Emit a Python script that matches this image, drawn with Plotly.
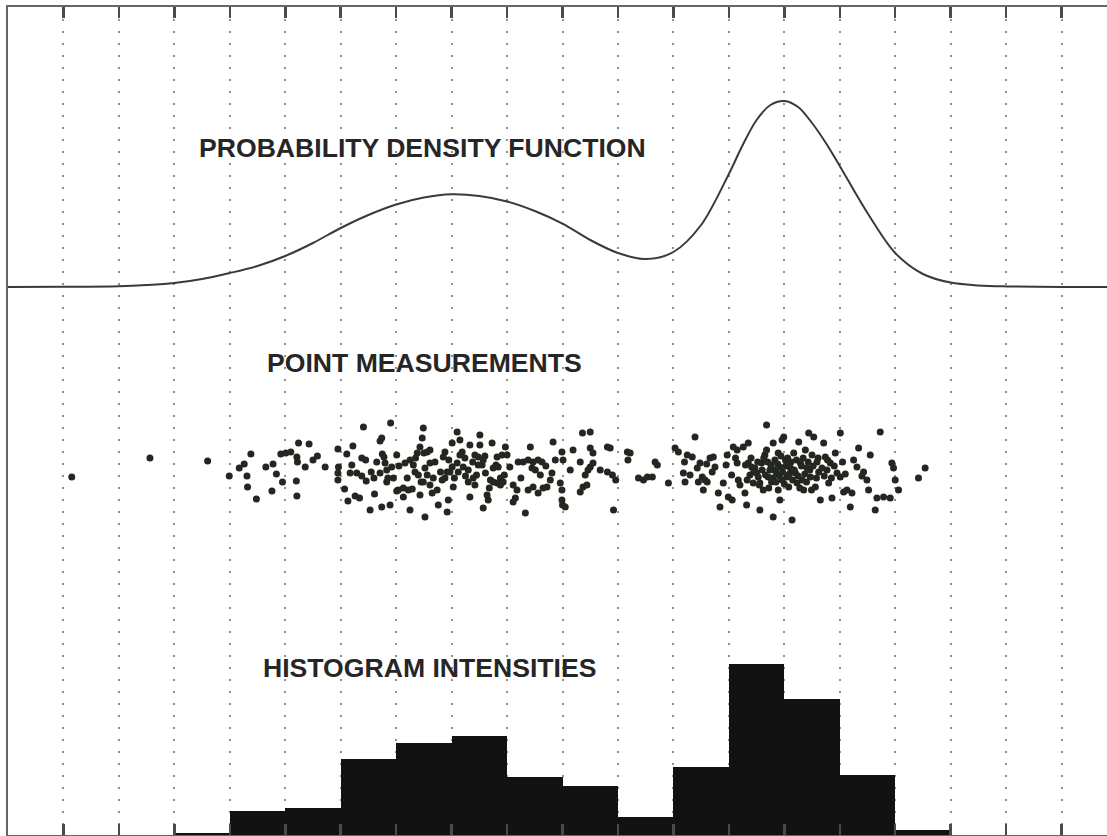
import plotly.graph_objects as go

# ---------------- data ----------------
# probability density function (arbitrary density units)
pdf_x = [0, 1, 2, 2.5, 3, 3.5, 4, 4.5, 5, 5.5, 6, 6.5, 7, 7.5, 8, 8.5, 9, 9.5, 10,
         10.5, 11, 11.5, 12, 12.5, 13, 13.25, 13.5, 13.75, 14, 14.25, 14.5, 14.75,
         15, 15.5, 16, 16.5, 17, 17.5, 18, 19, 20]
pdf_values = [0, 0.2, 0.8, 2, 4, 8, 14, 21, 31, 44, 59, 72, 82.5, 89.5, 92.7, 91,
              85.5, 76, 63.4, 47, 34, 28, 35, 62, 113, 142, 167, 182, 186, 180,
              164, 144, 121, 74, 34, 13, 4.4, 1.6, 0.6, 0, 0]

# point measurements: (measured value, vertical jitter)
point_measurements = [
    (1.15, -7), (2.56, 12), (3.60, 9), (3.99, -6), (4.17, 2), (4.26, 6), (4.38, 16),
    (4.31, -6), (4.32, -17), (4.48, -29), (4.65, 3), (4.78, 6), (4.76, -21), (4.84, -4),
    (4.92, 16), (5.01, 17), (5.10, 18), (4.95, -12), (5.21, 13), (5.22, 8), (5.24, 27),
    (5.43, 26), (5.20, -11), (5.21, -26), (5.36, 3), (5.50, 10), (5.58, 14), (5.72, 3),
    (5.95, 21), (5.96, 3), (5.95, -3), (5.95, -10), (6.07, -19), (6.13, -31), (6.11, 16),
    (6.22, 24), (6.17, -3), (6.26, -26), (6.34, -28), (6.29, -3), (6.38, 12), (6.41, 43),
    (6.38, -6), (6.46, -11), (6.53, -40), (6.55, -2), (6.61, -24), (6.65, 8), (6.71, 29),
    (6.74, 32), (6.75, 16), (6.71, -3), (6.74, -37), (6.80, 7), (6.83, 0), (6.83, -12),
    (6.89, -35), (6.90, 47), (6.92, 3), (7.01, -21), (6.78, 13), (6.85, -8),
    (7.01, 15), (7.04, -20), (7.13, -18), (7.22, -20), (7.29, -19), (7.13, -27), (7.16, 7),
    (7.25, 10), (7.31, 5), (7.25, -40), (7.34, -2), (7.40, -5), (7.43, 23), (7.47, 32),
    (7.49, 42), (7.38, 17), (7.50, 17), (7.56, 18), (7.61, 20), (7.43, -25), (7.49, -12),
    (7.52, 2), (7.56, -5), (7.61, 7), (7.65, -23), (7.61, -15), (7.67, -8), (7.52, -47),
    (7.74, -20), (7.76, -35), (7.83, -10), (7.88, -8), (7.92, -2), (7.85, 13), (7.88, 18),
    (7.92, -42), (7.94, -30), (8.01, 27), (8.10, 38), (8.15, 30), (8.01, 3), (8.10, 7),
    (8.15, 15), (8.19, 18), (8.03, -17), (7.97, -2), (8.21, 3), (8.24, 12), (8.30, 0),
    (8.33, 25), (8.30, -12), (8.39, -8), (8.42, -15), (8.33, -27), (8.42, 15), (8.48, 13),
    (8.51, 35), (8.51, 25), (8.48, 5), (8.55, 5), (8.57, 10), (8.61, -3), (8.57, -38),
    (8.64, -25), (8.66, -30), (8.70, -10), (8.75, -12), (8.82, -13), (8.88, -8), (8.73, 27),
    (8.82, 13), (8.91, 15), (8.97, 23), (9.00, 15), (8.88, -15), (8.93, -12), (8.75, 2),
    (8.84, 3), (9.11, -15), (9.18, -20), (9.15, -28), (9.11, -32), (9.20, 8), (9.29, 8),
    (9.38, 10), (9.47, 8), (9.56, 10), (9.63, 8), (9.42, 23), (9.38, -20), (9.47, -17),
    (9.45, 2), (9.51, 0), (9.33, -43), (9.56, -23), (9.65, -18), (9.72, -17), (9.78, -10),
    (9.81, -3), (9.87, 10), (9.83, 28), (9.99, 18), (10.01, 10), (9.96, -13), (9.99, -20),
    (9.99, -30), (10.00, -35), (10.05, -37), (10.14, 0), (10.19, 20), (10.32, 8),
    (10.36, 37), (10.50, 38), (10.32, -22), (10.37, -17), (10.44, -15), (10.41, -5),
    (10.46, 0), (10.50, 3), (10.55, 7), (10.50, 22), (10.55, 17), (10.68, 0), (10.81, 23),
    (10.86, 22), (10.81, -2), (10.90, -5), (10.96, -10), (10.92, -40), (11.17, 18),
    (11.22, 17), (11.18, 10), (11.37, -8), (11.46, -10), (11.53, -7), (11.62, -7),
    (11.67, 8), (11.71, 5), (11.91, -13), (12.03, 22), (12.09, 18), (12.18, -3),
    (12.21, -12), (12.25, 15), (12.34, 13), (12.39, 33), (12.43, 2), (12.48, 7),
    (12.52, -7), (12.57, -10), (12.54, -20), (12.61, -12), (12.66, 12), (12.72, 13),
    (12.75, 3), (12.81, -23), (12.84, -37), (12.90, -13), (12.97, 15), (12.99, -27),
    (13.06, -30), (13.08, 23), (13.15, 20), (13.15, 7), (13.17, -10),
    (13.26, 23), (13.29, -23), (13.32, -35), (13.35, 27), (13.35, 7), (13.38, -5),
    (13.41, 3), (13.44, -13), (13.47, 2), (13.50, -3), (13.53, -7), (13.56, -40),
    (13.56, -13), (13.59, 7), (13.62, -20), (13.65, 15), (13.68, 45), (13.68, 20),
    (13.71, -7), (13.74, 0), (13.77, -12), (13.80, 27), (13.80, -47), (13.83, 10),
    (13.86, -3), (13.89, 17), (13.89, -20), (13.92, 3), (13.92, -30), (13.96, 30),
    (13.96, -10), (13.99, 33), (14.02, 10), (14.05, -7), (14.08, -17), (14.11, 2),
    (14.14, -50), (14.17, 17), (14.20, -3), (14.23, -13), (14.26, 28), (14.29, 7),
    (14.32, -10), (14.35, -20), (14.38, 20), (14.41, 2), (14.44, 37), (14.47, -7),
    (14.50, 15), (14.53, 33), (14.56, -17), (14.59, 8), (14.62, -2), (14.65, -30),
    (14.71, 27), (14.74, 13), (14.77, 0), (14.80, -13), (14.83, 7), (14.86, -28),
    (14.92, 17), (14.95, -3), (15.01, 37), (15.01, -7), (15.07, -22), (15.13, -20),
    (15.19, -37), (15.22, -23), (15.31, 3), (15.34, 22), (15.43, -2), (15.49, -10),
    (15.52, -20), (15.55, 15), (15.64, -40), (15.67, -28), (15.73, 38), (15.79, -27),
    (15.91, -28), (15.94, 7), (15.97, 2), (16.00, -10), (16.06, -20), (16.42, -8),
    (16.54, 2),
    (13.30, 5), (13.33, -10), (13.40, 12), (13.45, -2), (13.52, 8), (13.55, -15),
    (13.60, 0), (13.63, 12), (13.66, -5), (13.70, 8), (13.72, -18), (13.76, 5),
    (13.79, -8), (13.82, 0), (13.85, -12), (13.88, 6), (13.91, -6), (13.94, 14),
    (13.97, -2), (14.00, -14), (14.03, 4), (14.06, 12), (14.09, -4), (14.12, 8),
    (14.15, -10), (14.18, 0), (14.22, 10), (14.25, -6), (14.28, -18), (14.31, 4),
    (14.34, 12), (14.37, -4), (14.40, -12), (14.43, 8), (14.46, 0), (14.49, -20),
    (14.52, 4), (14.58, -8), (14.61, 12), (14.68, 2), (14.72, -6), (14.78, 10),
    (14.85, -8), (14.90, 4), (15.05, 8), (15.10, -4), (15.25, 10), (15.40, -6),
    (12.95, 5), (13.05, -5), (13.12, 12), (13.20, -15), (12.70, -2), (12.60, 6),
    (12.45, -12), (12.30, -5), (12.20, 8),
    (6.20, 5), (6.45, 10), (6.60, -8), (6.95, -8), (7.05, 4), (7.20, -8), (7.35, 12),
    (7.45, -12), (7.70, 8), (7.80, -2), (7.95, 10), (8.05, -8), (8.12, -2), (8.25, -6),
    (8.38, 8), (8.45, -5), (8.60, 14), (8.68, -18), (8.80, 5), (8.95, -5), (9.05, 3),
    (9.25, -8), (9.60, -5), (9.70, 4),
]
measure_x = [p[0] for p in point_measurements]
measure_jitter = [p[1] for p in point_measurements]

# histogram intensities per unit bin
hist_bin_start = [3, 4, 5, 6, 7, 8, 9, 10, 11, 12, 13, 14, 15, 16]
hist_intensity = [2.3, 24, 27.3, 75.7, 91.7, 99, 58.5, 49.3, 18.3, 67.7, 171, 136, 60, 5]

panel_titles = ["PROBABILITY DENSITY FUNCTION", "POINT MEASUREMENTS", "HISTOGRAM INTENSITIES"]

# ---------------- figure ----------------
W, H = 1107, 836
ML, MR, MT, MB = 8, 0, 7, 1
plot_h = H - MT - MB          # 828 px tall plotting area
unit_px = 55.45
x_max = (W - ML - MR) / unit_px

# vertical layout of the three stacked panels (in px from the top of the page)
pdf_base_px = 287
scatter_mid_px = 470

frame_col = "#666666"
tick_col = "#4a4a4a"
ink = "#262626"

fig = go.Figure()

# Histogram on the base axes (x, y)
fig.add_trace(go.Bar(
    x=hist_bin_start, y=hist_intensity, width=1, offset=0,
    xaxis="x", yaxis="y",
    marker=dict(color="#121212", line=dict(width=0)),
    hoverinfo="skip", showlegend=False))

# PDF on overlaying axes (x2 on top, y2)
fig.add_trace(go.Scatter(
    x=pdf_x, y=pdf_values, mode="lines", xaxis="x2", yaxis="y2",
    line=dict(color="#3a3a3a", width=2, shape="spline", smoothing=0.9),
    hoverinfo="skip", showlegend=False))

# Points on overlaying y3
fig.add_trace(go.Scatter(
    x=measure_x, y=measure_jitter, mode="markers", xaxis="x", yaxis="y3",
    marker=dict(color="#23271f", size=7, line=dict(width=0)),
    hoverinfo="skip", showlegend=False))

bottom_px = H - MB
pdf_range = [-(bottom_px - pdf_base_px), pdf_base_px - MT]
scat_range = [scatter_mid_px - bottom_px, scatter_mid_px - MT]

def ypx_to_paper(ypx):
    return (bottom_px - ypx) / plot_h

hidden = dict(visible=False, showgrid=False, zeroline=False, fixedrange=True,
              overlaying="y", anchor="x")

tick_style = dict(tickmode="linear", tick0=0, dtick=1, showticklabels=False,
                  ticks="inside", ticklen=11, tickwidth=2.5, tickcolor=tick_col,
                  showline=True, linecolor=frame_col, linewidth=2,
                  zeroline=False, fixedrange=True)

fig.update_layout(
    width=W, height=H,
    margin=dict(l=ML, r=MR, t=MT, b=MB, pad=0),
    paper_bgcolor="white", plot_bgcolor="white",
    showlegend=False, bargap=0,
    xaxis=dict(range=[0, x_max], domain=[0, 1], anchor="y", side="bottom",
               mirror=False, showgrid=True, gridcolor="#8e8e8e", gridwidth=2,
               griddash="2px,10px", **tick_style),
    xaxis2=dict(range=[0, x_max], overlaying="x", anchor="y2", side="top",
                mirror=False, showgrid=False, **tick_style),
    yaxis=dict(range=[0, plot_h], domain=[0, 1], anchor="x",
               showline=True, linecolor=frame_col, linewidth=2, mirror=False,
               showticklabels=False, ticks="", showgrid=False, zeroline=False,
               fixedrange=True),
    yaxis2=dict(range=pdf_range, **hidden),
    yaxis3=dict(range=scat_range, **hidden),
)

title_pos = [(7.475, 148.3), (7.52, 363.0), (7.61, 667.5)]
for text, (tx, ty) in zip(panel_titles, title_pos):
    fig.add_annotation(
        x=tx, y=ypx_to_paper(ty), xref="x", yref="paper",
        text=text, showarrow=False, xanchor="center", yanchor="middle",
        font=dict(family="Liberation Sans, Arial, sans-serif", size=26.6,
                  color=ink, weight="bold"))

fig.write_html("out.html", config={"displayModeBar": False, "staticPlot": True})
